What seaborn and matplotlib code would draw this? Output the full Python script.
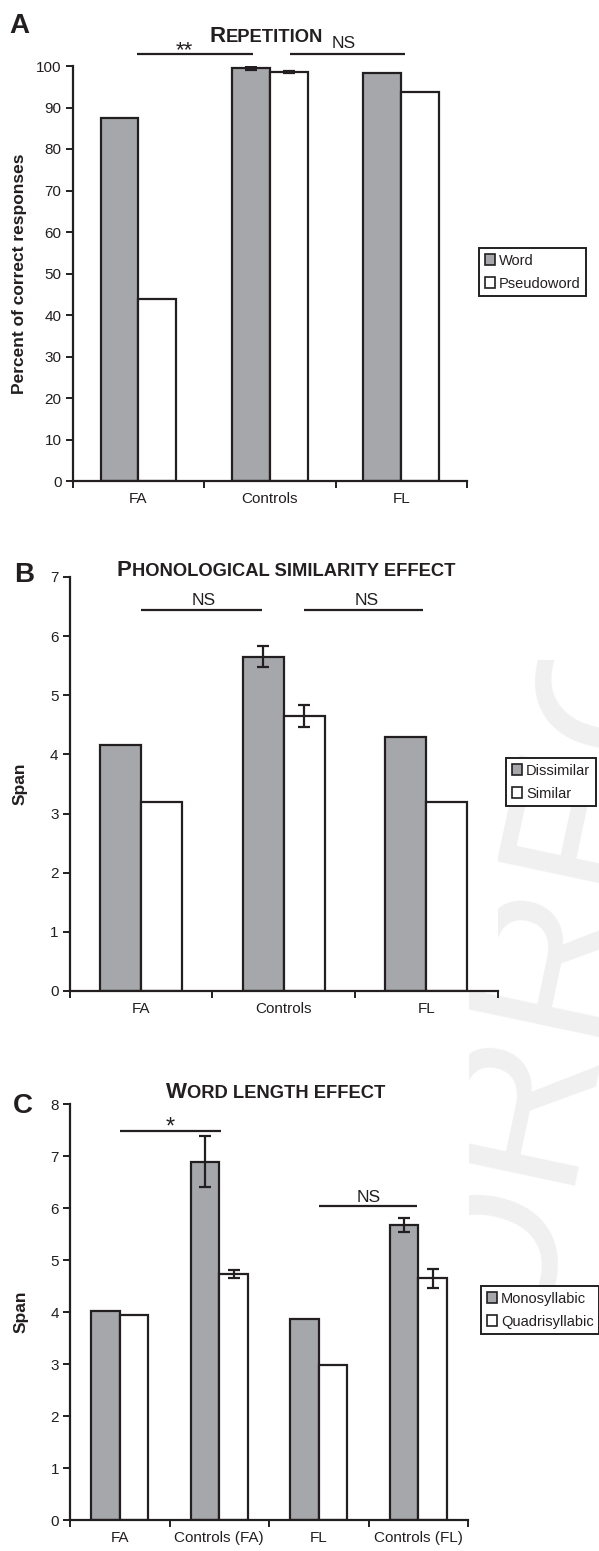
import matplotlib
matplotlib.use("Agg")
import matplotlib.pyplot as plt
import seaborn as sns
import pandas as pd
import numpy as np
from matplotlib.patches import Patch
from matplotlib.transforms import Bbox

sns.set_theme(style="white")
plt.rcParams['font.family'] = ['Liberation Sans', 'DejaVu Sans']

INK = '#231f20'
GRAY = '#a6a7ab'
W, H = 599, 1551

# ---------------- data ----------------
# Panel A: Repetition
groups_a = ["FA", "Controls", "FL"]
conds_a = ["Word", "Pseudoword"]
word_a = [87.5, 99.4, 98.4]
pseudo_a = [43.9, 98.6, 93.7]
word_err_a = [0, 0.3, 0]
pseudo_err_a = [0, 0.2, 0]

# Panel B: Phonological similarity effect
groups_b = ["FA", "Controls", "FL"]
conds_b = ["Dissimilar", "Similar"]
dissim_b = [4.16, 5.65, 4.29]
sim_b = [3.19, 4.65, 3.19]
dissim_err_b = [0, 0.18, 0]
sim_err_b = [0, 0.19, 0]

# Panel C: Word length effect
groups_c = ["FA", "Controls (FA)", "FL", "Controls (FL)"]
conds_c = ["Monosyllabic", "Quadrisyllabic"]
mono_c = [4.02, 6.89, 3.87, 5.67]
quad_c = [3.95, 4.73, 2.98, 4.65]
mono_err_c = [0, 0.49, 0, 0.14]
quad_err_c = [0, 0.07, 0, 0.18]

fig = plt.figure(figsize=(W / 100, H / 100), dpi=100)
fig.patch.set_facecolor('white')

TICK_FS = 11
LEG_FS = 10.5
YLAB_FS = 12.5


def panel(rect, groups, conds, v1, v2, e1, e2, ymax, ystep, ylabel, label_x,
          legend_xy):
    ax = fig.add_axes(rect)
    n = len(groups)
    df = pd.DataFrame({
        'group': groups * 2,
        'cond': [conds[0]] * n + [conds[1]] * n,
        'value': v1 + v2,
    })
    sns.barplot(data=df, x='group', y='value', hue='cond', order=groups,
                hue_order=conds, palette=[GRAY, 'white'], saturation=1,
                width=0.575, edgecolor=INK, linewidth=1.6, errorbar=None,
                legend=False, ax=ax)
    for cont, errs in zip(ax.containers, [e1, e2]):
        for p, e in zip(cont.patches, errs):
            if e > 0:
                ax.errorbar(p.get_x() + p.get_width() / 2, p.get_height(),
                            yerr=e, fmt='none', ecolor=INK, elinewidth=1.6,
                            capsize=4, capthick=1.6, zorder=5)
    ax.set_xlim(-0.5, n - 0.5)
    ax.set_ylim(0, ymax)
    ax.set_yticks(np.arange(0, ymax + ystep / 2, ystep))
    ax.set_xticks(range(n))
    ax.set_xticklabels(groups)
    ax.set_xticks(np.arange(-0.5, n, 1), minor=True)
    ax.tick_params(axis='x', which='major', length=0, pad=8,
                   labelsize=TICK_FS, labelcolor=INK)
    ax.tick_params(axis='x', which='minor', bottom=True, length=5, width=1.4,
                   color=INK, direction='out')
    ax.tick_params(axis='y', left=True, length=5, width=1.4, color=INK,
                   direction='out', labelsize=TICK_FS, labelcolor=INK, pad=3)
    for s in ['top', 'right']:
        ax.spines[s].set_visible(False)
    for s in ['left', 'bottom']:
        ax.spines[s].set_color(INK)
        ax.spines[s].set_linewidth(1.6)
    ax.set_xlabel('')
    ax.set_ylabel(ylabel, fontsize=YLAB_FS, fontweight='bold', color=INK)
    ax.yaxis.label.set_va('center')
    ax.yaxis.set_label_coords(label_x, 0.5)
    ax.set_facecolor('white')
    handles = [Patch(facecolor=GRAY, edgecolor=INK, linewidth=1.2, label=conds[0]),
               Patch(facecolor='white', edgecolor=INK, linewidth=1.2, label=conds[1])]
    leg = fig.legend(handles=handles, loc='upper left',
                     bbox_to_anchor=(legend_xy[0] / W, 1 - legend_xy[1] / H),
                     fontsize=LEG_FS, handlelength=0.7, handleheight=0.7,
                     handletextpad=0.3, labelspacing=0.62, borderpad=0.38,
                     borderaxespad=0, fancybox=False, framealpha=1)
    leg.get_frame().set_edgecolor(INK)
    leg.get_frame().set_linewidth(1.4)
    for t in leg.get_texts():
        t.set_color(INK)
    return ax


def sig(ax, x0, x1, y, text, tx, ty, size=12.5):
    ax.plot([x0, x1], [y, y], color=INK, lw=1.6, clip_on=False,
            solid_capstyle='butt')
    ax.text(tx, ty, text, ha='center', va='baseline', fontsize=size,
            color=INK, clip_on=False)


def sc_title(big, small, cx_px, base_px, bigsize=16, smallsize=13.2):
    r = fig.canvas.get_renderer()
    t1 = fig.text(0, 0, big, fontsize=bigsize, fontweight='bold',
                  va='baseline', ha='left', color=INK)
    t2 = fig.text(0, 0, small, fontsize=smallsize, fontweight='bold',
                  va='baseline', ha='left', color=INK)
    w1 = t1.get_window_extent(r).width
    w2 = t2.get_window_extent(r).width
    x0 = cx_px - (w1 + w2) / 2
    y = 1 - base_px / H
    t1.set_position((x0 / W, y))
    t2.set_position(((x0 + w1) / W, y))


# faint proof watermark, only visible in the right margin
wm = fig.text(583 / W, 1 - 840 / H, "CORRECTED", rotation=78,
              rotation_mode='anchor', ha='center', va='center', fontsize=150,
              color='#f0f0f0', zorder=-5)
wm.set_clip_box(Bbox.from_extents(469, H - 1295, W, H - 660))

axA = panel([72.7 / W, 1 - 481 / H, 394.3 / W, 415 / H], groups_a, conds_a,
            word_a, pseudo_a, word_err_a, pseudo_err_a, 100, 10,
            "Percent of correct responses", -0.136, (479, 248))
axB = panel([69.7 / W, 1 - 991 / H, 427.8 / W, 414 / H], groups_b, conds_b,
            dissim_b, sim_b, dissim_err_b, sim_err_b, 7, 1,
            "Span", -0.116, (506, 758))
axC = panel([70 / W, 1 - 1520 / H, 398 / W, 416 / H], groups_c, conds_c,
            mono_c, quad_c, mono_err_c, quad_err_c, 8, 1,
            "Span", -0.123, (481, 1286))

# significance markers
sig(axA, -0.01, 0.87, 103.0, "**", 0.35, 102.3, size=16)
sig(axA, 1.15, 2.03, 103.0, "NS", 1.56, 104.3)
sig(axB, 0.0, 0.85, 6.45, "NS", 0.44, 6.53)
sig(axB, 1.14, 1.98, 6.45, "NS", 1.58, 6.53)
sig(axC, 0.0, 1.02, 7.48, "*", 0.51, 7.43, size=17)
sig(axC, 2.0, 2.99, 6.04, "NS", 2.5, 6.12)

# titles (small caps)
sc_title("R", "EPETITION", 266.5, 41.7)
sc_title("P", "HONOLOGICAL SIMILARITY EFFECT", 286, 576)
sc_title("W", "ORD LENGTH EFFECT", 275.5, 1098)

# panel letters
for letter, x, y in [("A", 9.6, 33), ("B", 14.5, 582), ("C", 13, 1113)]:
    fig.text(x / W, 1 - y / H, letter, fontsize=20, fontweight='bold',
             va='baseline', ha='left', color=INK)

fig.savefig("out.png", dpi=100, facecolor='white')
